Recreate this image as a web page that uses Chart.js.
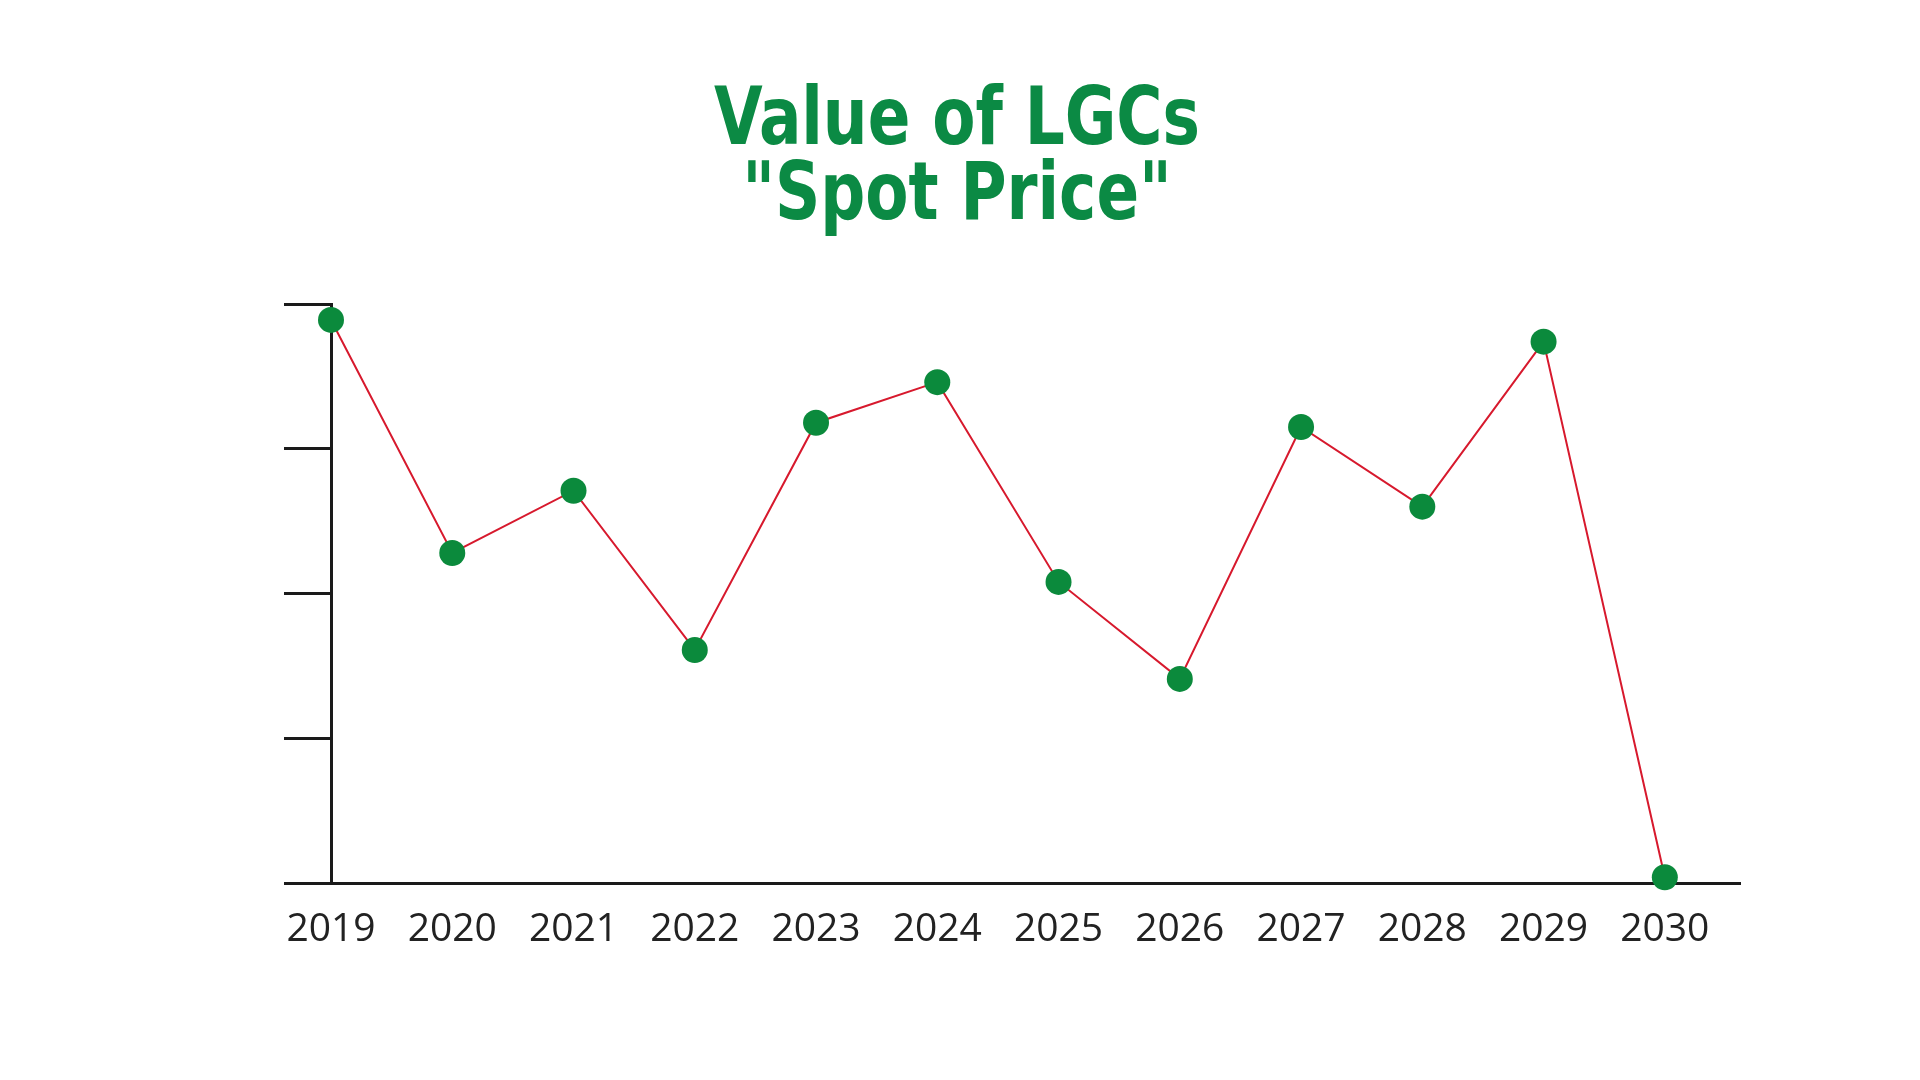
<!DOCTYPE html>
<html>
<head>
<meta charset="utf-8">
<script src="https://cdn.jsdelivr.net/npm/chart.js@4"></script>
<style>
  html, body { margin: 0; padding: 0; background: #fff; }
  #wrap { position: relative; width: 1920px; height: 1080px; }
  #titulo {
    position: absolute; left: 0; top: 79px; width: 1914px;
    text-align: center; color: #0b8a44;
    font-family: "DejaVu Sans Condensed", sans-serif;
    font-weight: bold; font-size: 80px; line-height: 75px;
    transform: scaleX(0.874);
  }
</style>
</head>
<body>
<div id="wrap">
  <div id="titulo">Value of LGCs<br>"Spot Price"</div>
  <canvas id="grafica" width="1920" height="1080"></canvas>
</div>
<script>
var anios = [2019, 2020, 2021, 2022, 2023, 2024, 2025, 2026, 2027, 2028, 2029, 2030];
var precios = [3.89, 2.28, 2.71, 1.61, 3.18, 3.46, 2.08, 1.41, 3.15, 2.60, 3.74, 0.04];
var ticksY = [0, 1, 2, 3, 4];

var puntos = [];
for (var i = 0; i < anios.length; i++) {
    puntos.push({x: anios[i], y: precios[i]});
}

var serie = {
    label: 'Spot Price',
    data: puntos,
    borderColor: '#d7192d',
    borderWidth: 2,
    backgroundColor: '#0b8a3c',
    pointBackgroundColor: '#0b8a3c',
    pointBorderWidth: 0,
    pointRadius: 13,
    tension: 0,
    clip: false
};

var config = {
    type: 'line',
    data: { datasets: [serie] },
    options: {
        responsive: false,
        animation: false,
        layout: { padding: { left: 284, right: 180, top: 304, bottom: 97 } },
        plugins: { legend: { display: false }, tooltip: { enabled: false } },
        scales: {
            x: {
                type: 'linear',
                min: anios[0],
                max: anios[anios.length - 1] + 0.62,
                afterFit: function(s) { s.height = 100; },
                afterBuildTicks: function(s) {
                    s.ticks = anios.map(function(a) { return {value: a}; });
                },
                grid: { display: false, drawTicks: false },
                border: { color: '#1a1a1a', width: 3 },
                ticks: {
                    padding: 23,
                    color: '#222',
                    font: { family: '"Open Sans", sans-serif', size: 39 },
                    callback: function(v) { return String(v); }
                }
            },
            y: {
                min: ticksY[0],
                max: ticksY[ticksY.length - 1],
                afterFit: function(s) { s.width = 47; },
                afterBuildTicks: function(s) {
                    s.ticks = ticksY.map(function(t) { return {value: t}; });
                },
                grid: { drawOnChartArea: false, drawTicks: true, tickLength: 47, tickWidth: 3, tickColor: '#1a1a1a' },
                border: { color: '#1a1a1a', width: 3 },
                ticks: { display: false }
            }
        }
    }
};

var grafica = new Chart(document.getElementById('grafica'), config);
</script>
</body>
</html>
